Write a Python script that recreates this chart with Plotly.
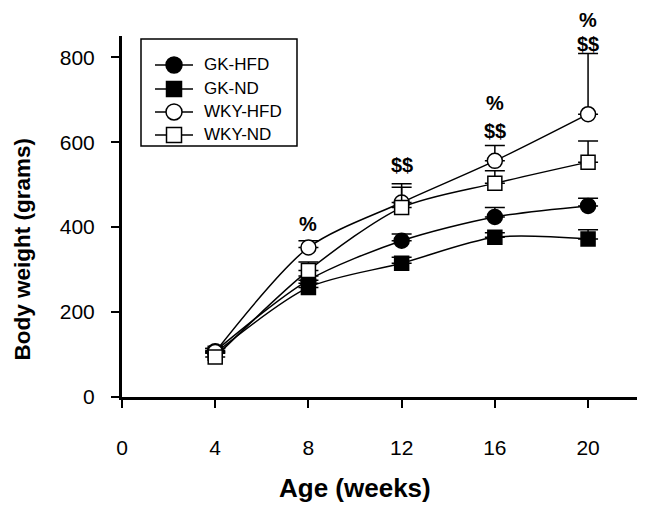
import plotly.graph_objects as go

weeks = [4, 8, 12, 16, 20]

gk_hfd = [108, 275, 368, 424, 450]
gk_hfd_sd = [6, 10, 16, 22, 18]
gk_nd = [103, 258, 315, 376, 372]
gk_nd_sd = [6, 10, 14, 11, 22]
wky_hfd = [106, 352, 458, 556, 666]
wky_hfd_sd = [8, 16, 44, 36, 143]
wky_nd = [94, 298, 446, 503, 553]
wky_nd_sd = [10, 20, 48, 30, 50]

x_ticks = [0, 4, 8, 12, 16, 20]
y_ticks = [0, 200, 400, 600, 800]
Y_MAX = 850

sig_x = [8, 12, 16, 16, 20, 20]
sig_y = [408, 546, 692, 626, 887, 832]
sig_txt = ["%", "$$", "%", "$$", "%", "$$"]

FONT = "Arial, Liberation Sans, Helvetica, sans-serif"

series = [
    ("GK-HFD", gk_hfd, gk_hfd_sd, "circle", "black"),
    ("GK-ND", gk_nd, gk_nd_sd, "square", "black"),
    ("WKY-HFD", wky_hfd, wky_hfd_sd, "circle", "white"),
    ("WKY-ND", wky_nd, wky_nd_sd, "square", "white"),
]

fig = go.Figure()
for name, vals, sd, sym, fill in series:
    fig.add_trace(go.Scatter(
        x=weeks, y=vals, name=name, mode="lines+markers",
        line=dict(color="black", width=1.5, shape="spline", smoothing=0.8),
        marker=dict(symbol=sym, size=15 if sym == "circle" else 14, color=fill,
                    line=dict(color="black", width=1.5)),
        error_y=dict(type="data", symmetric=False, array=sd,
                     arrayminus=[0] * len(sd), color="black",
                     thickness=1.5, width=10),
        cliponaxis=False, showlegend=False,
    ))

# significance marks (y converted to plot-area fraction so the top one is not hidden)
for x, y, t in zip(sig_x, sig_y, sig_txt):
    fig.add_annotation(x=x, xref="x", y=y / Y_MAX, yref="paper", text="<b>%s</b>" % t,
                       showarrow=False,
                       font=dict(family=FONT, size=20, color="black"),
                       xanchor="center", yanchor="middle")

# manual legend box
leg_x0, leg_x1, leg_y0, leg_y1 = 0.0369, 0.3398, 0.6953, 0.9917
fig.add_shape(type="rect", xref="paper", yref="paper", x0=leg_x0, x1=leg_x1,
              y0=leg_y0, y1=leg_y1, line=dict(color="black", width=1.5),
              fillcolor="white", layer="above")
row_y = [0.9197, 0.8532, 0.7895, 0.7258]
line_x0, line_x1, mark_x, text_x = 0.0641, 0.1379, 0.1010, 0.1553
for (name, vals, sd, sym, fill), ry in zip(series, row_y):
    fig.add_shape(type="line", xref="paper", yref="paper", x0=line_x0, x1=line_x1,
                  y0=ry, y1=ry, line=dict(color="black", width=1.5), layer="above")
    half = 8 if sym == "circle" else 7.5
    fig.add_shape(type="circle" if sym == "circle" else "rect",
                  xref="paper", yref="paper", xsizemode="pixel", ysizemode="pixel",
                  xanchor=mark_x, yanchor=ry, x0=-half, x1=half, y0=-half, y1=half,
                  fillcolor=fill, line=dict(color="black", width=1.5), layer="above")
    fig.add_annotation(xref="paper", yref="paper", x=text_x, y=ry, text=name,
                       showarrow=False, xanchor="left", yanchor="middle",
                       font=dict(family=FONT, size=17, color="black"))

fig.add_annotation(xref="paper", yref="paper", x=0.452, y=-0.252,
                   text="<b>Age (weeks)</b>", showarrow=False,
                   font=dict(family=FONT, size=26, color="black"),
                   xanchor="center", yanchor="middle")
fig.add_annotation(xref="paper", yref="paper", x=-0.193, y=0.41,
                   text="<b>Body weight (grams)</b>", showarrow=False, textangle=-90,
                   font=dict(family=FONT, size=22.5, color="black"),
                   xanchor="center", yanchor="middle")

# page body has an 8px margin; figure is sized to fit inside the 646x510 window
fig.update_layout(
    width=630, height=494,
    margin=dict(l=114, r=1, t=28, b=105),
    paper_bgcolor="white", plot_bgcolor="white",
    font=dict(family=FONT, color="black"),
    showlegend=False,
)
fig.update_xaxes(range=[0, 22.1], tickvals=x_ticks, showline=True, linecolor="black",
                 linewidth=3, ticks="outside", ticklen=8, tickwidth=1.5, tickcolor="black",
                 showgrid=False, zeroline=False, tickfont=dict(family=FONT, size=21),
                 ticklabelstandoff=22)
fig.update_yaxes(range=[0, Y_MAX], tickvals=y_ticks, showline=True, linecolor="black",
                 linewidth=3, ticks="outside", ticklen=8, tickwidth=1.5, tickcolor="black",
                 showgrid=False, zeroline=False, tickfont=dict(family=FONT, size=21),
                 ticklabelstandoff=12)

fig.write_html("out.html")
